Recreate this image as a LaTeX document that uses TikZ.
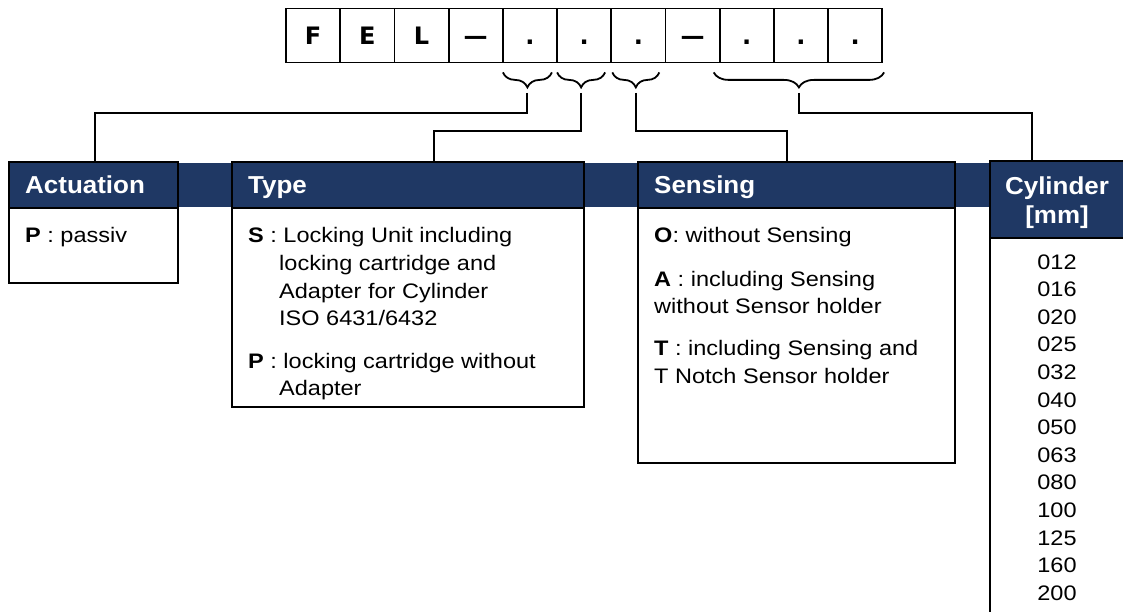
\documentclass[tikz,border=0pt]{standalone}
\usepackage{fontspec}
\setmainfont{Liberation Sans}[FakeStretch=1.12]
\newfontfamily\hdfont{Liberation Sans}[FakeStretch=1.06]
\newfontfamily\cellfont{DejaVu Sans}
\usetikzlibrary{decorations.pathreplacing,calc}
\definecolor{navy}{HTML}{1F3864}
\begin{document}
\begin{tikzpicture}[x=1pt,y=-1pt,
  cell/.style={draw,line width=1.8pt,minimum width=54.2pt,minimum height=54pt,inner sep=0pt,
    text height=17.7pt,text depth=0pt,font=\cellfont\bfseries\fontsize{24}{24}\selectfont},
  bodybox/.style={fill=white,draw,line width=2pt,inner sep=0pt},
  headbox/.style={fill=navy,draw,line width=2pt,inner sep=0pt},
  htext/.style={text=white,font=\hdfont\bfseries\fontsize{24.5}{29}\selectfont,inner sep=0pt},
  btext/.style={anchor=base west,inner sep=0pt,font=\fontsize{21}{27.5}\selectfont},
  ntext/.style={anchor=base,inner sep=0pt,font=\fontsize{21}{27.5}\selectfont},
  brc/.style={decorate,decoration={brace,amplitude=15pt},line width=1.8pt},
  conn/.style={line width=2pt}
]
\useasboundingbox (0,0) rectangle (1123,612);
\clip (0,0) rectangle (1123,612);

% code row
\foreach \t [count=\i] in {F,E,L,—,.,.,.,—,.,.,.}{
  \node[cell] (c\i) at ({286+54.2*(\i-0.5)},35.5) {\t};
}

% braces
\coordinate (b1l) at ($(c5.south west)+(1,9)$);
\coordinate (b1r) at ($(c5.south east)+(-6,9)$);
\coordinate (b2l) at ($(c6.south west)+(1,9)$);
\coordinate (b2r) at ($(c6.south east)+(-7,9)$);
\coordinate (b3l) at ($(c7.south west)+(2,9)$);
\coordinate (b3r) at ($(c7.south east)+(-7,9)$);
\coordinate (b4l) at ($(c9.south west)+(-5,9)$);
\coordinate (b4r) at ($(c11.south east)+(1,9)$);
\draw[brc] (b1r) -- (b1l);
\draw[brc] (b2r) -- (b2l);
\draw[brc] (b3r) -- (b3l);
\draw[brc] (b4r) -- (b4l);
\coordinate (t1) at ($(b1l)!0.5!(b1r)+(0,20.4)$);
\coordinate (t2) at ($(b2l)!0.5!(b2r)+(0,20.4)$);
\coordinate (t3) at ($(b3l)!0.5!(b3r)+(0,20.4)$);
\coordinate (t4) at ($(b4l)!0.5!(b4r)+(0,20.4)$);

% header band
\fill[navy] (9,163) rectangle (1123,207);

% boxes
\node[bodybox,minimum width=169pt,minimum height=121pt] (act) at (93.5,222.5) {};
\node[headbox,minimum width=169pt,minimum height=46pt] (acth) at (93.5,185) {};
\node[bodybox,minimum width=352pt,minimum height=245pt] (typ) at (408,284.5) {};
\node[headbox,minimum width=352pt,minimum height=46pt] (typh) at (408,185) {};
\node[bodybox,minimum width=317pt,minimum height=301pt] (sen) at (796.5,312.5) {};
\node[headbox,minimum width=317pt,minimum height=46pt] (senh) at (796.5,185) {};
\node[bodybox,minimum width=150pt,minimum height=500pt] (cyl) at (1065,411) {};
\node[headbox,minimum width=150pt,minimum height=77pt] (cylh) at (1065,199.5) {};

% connectors
\coordinate (k1) at (95,113);
\coordinate (k2) at (434,131);
\coordinate (k3) at (787,131);
\coordinate (k4) at (1032,113);
\draw[conn] (t1) |- (k1) -- (k1 |- acth.north);
\draw[conn] (t2) |- (k2) -- (k2 |- typh.north);
\draw[conn] (t3) |- (k3) -- (k3 |- senh.north);
\draw[conn] (t4) |- (k4) -- (k4 |- cylh.north);

% header texts
\node[htext,anchor=base west] (acttx) at (25,194) {Actuation};
\node[htext,anchor=base west] (typtx) at (248,194) {Type};
\node[htext,anchor=base west] (sentx) at (654,194) {Sensing};
\node[htext,anchor=base] (cyltx1) at (1057,195) {Cylinder};
\node[htext,anchor=base] (cyltx2) at (1057,224) {[mm]};

% body texts
\node[btext] (a1) at (25,243) {\textbf{P} : passiv};

\node[btext] (ty1) at (248,243) {\textbf{S} : Locking Unit including};
\node[btext] (ty2) at (279,270.5) {locking cartridge and};
\node[btext] (ty3) at (279,298) {Adapter for Cylinder};
\node[btext] (ty4) at (279,325.5) {ISO 6431/6432};
\node[btext] (ty5) at (248,368) {\textbf{P} : locking cartridge without};
\node[btext] (ty6) at (279,395.5) {Adapter};

\node[btext] (se1) at (654,243) {\textbf{O}: without Sensing};
\node[btext] (se2) at (654,286.5) {\textbf{A} : including Sensing};
\node[btext] (se3) at (654,313) {without Sensor holder};
\node[btext] (se4) at (654,355.5) {\textbf{T} : including Sensing and};
\node[btext] (se5) at (654,383) {T Notch Sensor holder};

\foreach \v [count=\i from 0] in {012,016,020,025,032,040,050,063,080,100,125,160,200}{
  \node[ntext] (cy\i) at (1057,{269+27.6*\i}) {\v};
}
\end{tikzpicture}
\end{document}
